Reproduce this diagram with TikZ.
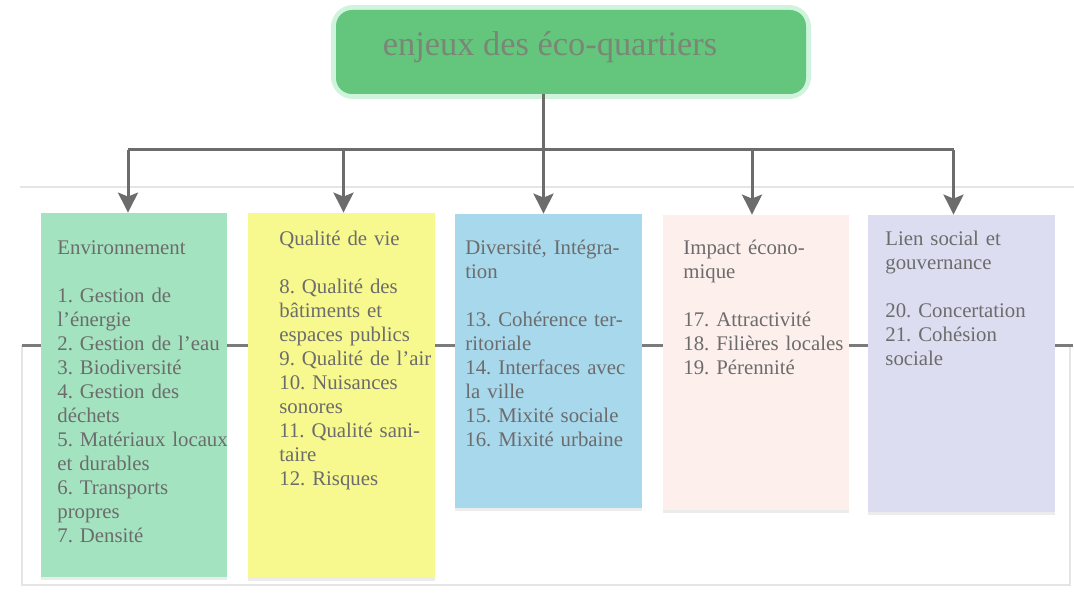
\documentclass[tikz,border=0pt]{standalone}
\usepackage{fontspec}
\setmainfont{Liberation Serif}
\usetikzlibrary{arrows.meta,fit,shadows}
\definecolor{vertTitre}{RGB}{100,198,124}
\definecolor{halo}{RGB}{150,228,180}
\definecolor{texteTitre}{RGB}{122,134,118}
\definecolor{vertEnv}{RGB}{163,227,192}
\definecolor{jauneVie}{RGB}{247,248,142}
\definecolor{bleuDiv}{RGB}{168,216,236}
\definecolor{roseEco}{RGB}{253,239,235}
\definecolor{mauveLien}{RGB}{221,221,241}
\definecolor{gris}{RGB}{108,108,108}
\definecolor{texteGris}{RGB}{108,108,108}
\frenchspacing
\begin{document}
\begin{tikzpicture}[x=.5pt,y=-.5pt,>={Stealth[width=10pt,length=10pt,inset=2pt]},font=\fontsize{10.4}{12}\selectfont]
    \tikzset{boite/.style={fit={#1},inner sep=0,draw=none,drop shadow={shadow xshift=0pt,shadow yshift=-1.5pt,opacity=.15}},
        texte/.style={anchor=base west,text width=90pt,align=left,inner sep=0,text=texteGris},
        fleche/.style={->,line width=1.5pt,draw=gris},
        cadre/.style={draw=black!10,line width=.6pt}
    }
    \useasboundingbox (0,0) rectangle (1074,593);
    % cadre et trait horizontal
    \draw[cadre] (20,187) -- (1074,187);
    \coordinate (g) at (22,345);
    \coordinate (d) at (1070,345);
    \draw[cadre] (g) -- (22,585) -- (1070,585) -- (d);
    \draw[line width=1.5pt,draw=gris!90] (g) -- (1073,345);
    % titre
    \node[fit={(331,5) (811,99)},inner sep=0,fill=halo,rounded corners=11pt,opacity=.45] (halo) {};
    \node[fit={(336,10) (806,94)},inner sep=0,fill=vertTitre,rounded corners=8pt] (titre) {};
    \node[anchor=base,text=texteTitre,font=\fontsize{17.2}{20}\selectfont] (titretxt) at (550,56) {enjeux des éco-quartiers};
    % boites
    \node[boite={(41,213) (227,577)},fill=vertEnv] (env) {};
    \node[boite={(248,213) (435,578)},fill=jauneVie] (qual) {};
    \node[boite={(455,214) (642,508)},fill=bleuDiv] (div) {};
    \node[boite={(663,215) (849,510)},fill=roseEco] (eco) {};
    \node[boite={(868,215) (1055,512)},fill=mauveLien] (lien) {};
    \node[texte] (envtxt) at (57,254) {Environnement\\[12pt]
        1. Gestion de\\ l’énergie\\ 2. Gestion de l’eau\\ 3. Biodiversité\\ 4. Gestion des\\ déchets\\
        5. Matériaux locaux\\ et durables\\ 6. Transports\\ propres\\ 7. Densité};
    \node[texte] (qualtxt) at (279,245) {Qualité de vie\\[12pt]
        8. Qualité des\\ bâtiments et\\ espaces publics\\ 9. Qualité de l’air\\ 10. Nuisances\\ sonores\\
        11. Qualité sani-\\ taire\\ 12. Risques};
    \node[texte] (divtxt) at (465,254) {Diversité, Intégra-\\ tion\\[12pt]
        13. Cohérence ter-\\ ritoriale\\ 14. Interfaces avec\\ la ville\\ 15. Mixité sociale\\ 16. Mixité urbaine};
    \node[texte] (ecotxt) at (683,254) {Impact écono-\\ mique\\[12pt]
        17. Attractivité\\ 18. Filières locales\\ 19. Pérennité};
    \node[texte] (lientxt) at (885,245) {Lien social et\\ gouvernance\\[12pt]
        20. Concertation\\ 21. Cohésion\\ sociale};
    % fleches
    \coordinate (barre) at (543,150);
    \draw[fleche] ([xshift=-2.5pt]div.north |- titre.south) -- ([xshift=-2.5pt]div.north);
    \draw[line width=1.5pt,draw=gris] ([xshift=-3pt]env.north |- barre) -- ([xshift=-4pt]lien.north |- barre);
    \foreach \b/\dx in {env/-3,qual/1,eco/-2,lien/-4}
        \draw[fleche] ([xshift=\dx pt]\b.north |- barre) -- ([xshift=\dx pt]\b.north);
\end{tikzpicture}
\end{document}
